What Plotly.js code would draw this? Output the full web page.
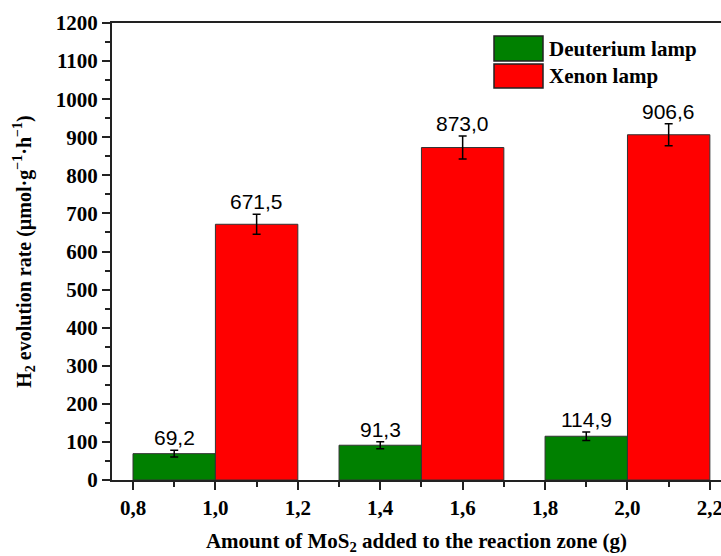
<!DOCTYPE html>
<html>
<head>
<meta charset="utf-8">
<script src="https://cdn.plot.ly/plotly-3.0.1.min.js"></script>
<style>html,body{margin:0;padding:0;background:#fff;}#chart{width:721px;height:556px;}</style>
</head>
<body>
<div id="chart"></div>
<script>
// Data
const deutX = [0.9, 1.4, 1.9];
const deutY = [69.2, 91.3, 114.9];
const deutErr = [9, 9, 11];
const xenonX = [1.1, 1.6, 2.1];
const xenonY = [671.5, 873.0, 906.6];
const xenonErr = [26, 30, 29];
const seriesNames = ['Deuterium lamp', 'Xenon lamp'];
const seriesColors = ['#008000', '#ff0000'];
const xTickVals = [0.8, 1.0, 1.2, 1.4, 1.6, 1.8, 2.0, 2.2];
const barWidth = 0.2;

const fmt = v => v.toFixed(1).replace('.', ',');

const serif = 'Liberation Serif, Times New Roman, serif';
const sans = 'Liberation Sans, Arial, sans-serif';

const traces = [
  {
    type: 'bar', name: seriesNames[0], x: deutX, y: deutY,
    width: deutX.map(() => barWidth),
    marker: {color: seriesColors[0], line: {color: '#333', width: 1}},
    error_y: {type: 'data', array: deutErr, visible: true, color: '#000', thickness: 1.5, width: 4}
  },
  {
    type: 'bar', name: seriesNames[1], x: xenonX, y: xenonY,
    width: xenonX.map(() => barWidth),
    marker: {color: seriesColors[1], line: {color: '#333', width: 1}},
    error_y: {type: 'data', array: xenonErr, visible: true, color: '#000', thickness: 1.5, width: 4}
  }
];

const annotations = [];
deutX.forEach((x, i) => annotations.push({x: x, y: deutY[i] + deutErr[i], text: fmt(deutY[i]), showarrow: false, yanchor: 'bottom', yshift: -1, font: {family: sans, size: 21, color: '#000'}}));
xenonX.forEach((x, i) => annotations.push({x: x, y: xenonY[i] + xenonErr[i], text: fmt(xenonY[i]), showarrow: false, yanchor: 'bottom', yshift: -1, font: {family: sans, size: 21, color: '#000'}}));

// Legend box (large swatches, as in the reference), placed in paper coordinates
const M = {l: 112, r: 0, t: 23, b: 76};
const W = 721, H = 556;
const pw = W - M.l - M.r, ph = H - M.t - M.b;
const px2x = p => (p - M.l) / pw;
const py2y = p => (H - M.b - p) / ph;
const shapes = [];
const legRows = [[36, 61], [64, 88]];
seriesNames.forEach((name, i) => {
  const r = legRows[i];
  shapes.push({type: 'rect', xref: 'paper', yref: 'paper', x0: px2x(494), x1: px2x(543), y0: py2y(r[1]), y1: py2y(r[0]),
    fillcolor: seriesColors[i], line: {color: '#222', width: 1.5}});
  annotations.push({xref: 'paper', yref: 'paper', x: px2x(547), y: py2y((r[0] + r[1]) / 2), xanchor: 'left', yanchor: 'middle',
    text: name, showarrow: false, font: {family: serif, size: 21, color: '#000', weight: 'bold'}});
});

const layout = {
  width: W, height: H,
  margin: M,
  paper_bgcolor: '#fff', plot_bgcolor: '#fff',
  barmode: 'overlay',
  separators: ', ',
  showlegend: false,
  xaxis: {
    range: [0.749, 2.227],
    tickvals: xTickVals,
    tickformat: '.1f',
    ticklabeloverflow: 'allow',
    ticks: 'outside', ticklen: 8, tickwidth: 2, tickcolor: '#222',
    minor: {dtick: 0.1, tick0: 0.8, ticks: 'outside', ticklen: 5, tickwidth: 2, tickcolor: '#222'},
    showline: true, linecolor: '#222', linewidth: 2, mirror: true,
    showgrid: false, zeroline: false,
    tickfont: {family: serif, size: 21, color: '#000', weight: 'bold'},
    title: {text: 'Amount of MoS<sub>2</sub> added to the reaction zone (g)', font: {family: serif, size: 21, color: '#000', weight: 'bold'}, standoff: 14}
  },
  yaxis: {
    range: [0, 1200],
    dtick: 100, tick0: 0,
    ticks: 'outside', ticklen: 8, tickwidth: 2, tickcolor: '#222',
    minor: {dtick: 50, ticks: 'outside', ticklen: 5, tickwidth: 2, tickcolor: '#222'},
    showline: true, linecolor: '#222', linewidth: 2, mirror: false,
    showgrid: false, zeroline: false,
    tickfont: {family: serif, size: 21, color: '#000', weight: 'bold'},
    title: {text: 'H<sub>2</sub> evolution rate (µmol·g<sup>−1</sup>·h<sup>−1</sup>)', font: {family: serif, size: 20, color: '#000', weight: 'bold'}, standoff: 19}
  },
  shapes: shapes,
  annotations: annotations
};

Plotly.newPlot('chart', traces, layout, {displayModeBar: false, staticPlot: true});
</script>
</body>
</html>
